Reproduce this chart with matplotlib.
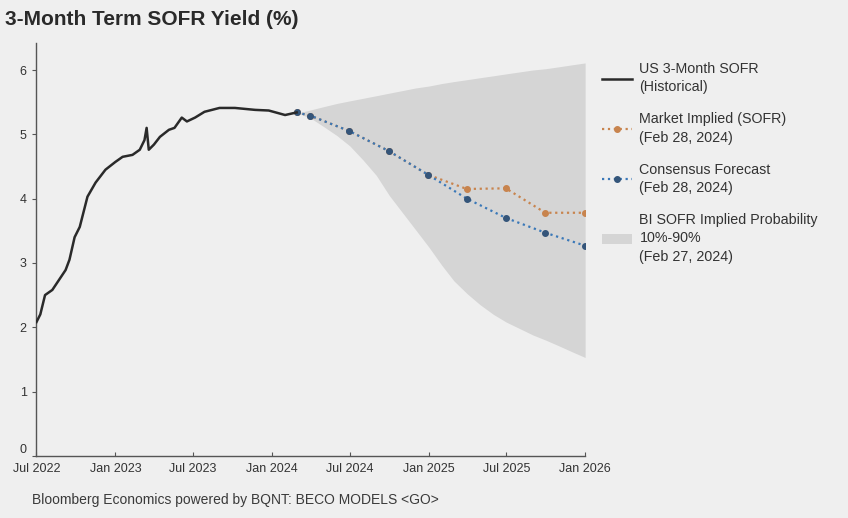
import numpy as np
import pandas as pd
import matplotlib
matplotlib.use('Agg')
import matplotlib.pyplot as plt
import matplotlib.dates as mdates
from matplotlib.lines import Line2D
from matplotlib.patches import Patch

plt.rcParams['font.family'] = ['Liberation Sans', 'DejaVu Sans']

# historical 3m SOFR
hist_dates = ['2022-07-01', '2022-07-10', '2022-07-21', '2022-08-07', '2022-08-19', '2022-09-07',
              '2022-09-16', '2022-09-28', '2022-10-10', '2022-10-28', '2022-11-16', '2022-12-09',
              '2023-01-01', '2023-01-18', '2023-02-10', '2023-02-27', '2023-03-10', '2023-03-15',
              '2023-03-20', '2023-04-01', '2023-04-15', '2023-05-06', '2023-05-19', '2023-06-05',
              '2023-06-17', '2023-07-06', '2023-07-28', '2023-09-01', '2023-10-07', '2023-11-23',
              '2023-12-25', '2024-02-01', '2024-02-28']
hist_vals = [2.08, 2.2, 2.5, 2.58, 2.7, 2.89,
             3.05, 3.4, 3.56, 4.03, 4.25, 4.45,
             4.57, 4.65, 4.68, 4.76, 4.91, 5.1,
             4.76, 4.84, 4.96, 5.07, 5.1, 5.26,
             5.2, 5.26, 5.35, 5.41, 5.41, 5.38,
             5.37, 5.3, 5.34]

# forecasts (quarterly)
fc_dates = ['2024-02-28', '2024-03-31', '2024-06-30', '2024-09-30', '2024-12-31',
            '2025-03-31', '2025-06-30', '2025-09-30', '2025-12-31']
market_implied = [5.34, 5.29, 5.05, 4.74, 4.37, 4.15, 4.16, 3.78, 3.78]
consensus = [5.34, 5.29, 5.05, 4.74, 4.37, 4.0, 3.70, 3.47, 3.27]

# BI implied probability band 10%-90% (monthly)
band_dates = pd.date_range('2024-03-01', '2026-01-01', freq='MS')
band_low = [5.33, 5.25, 5.12, 4.98, 4.82, 4.6, 4.36, 4.05, 3.78, 3.52, 3.25, 2.96,
            2.72, 2.52, 2.35, 2.2, 2.08, 1.98, 1.88, 1.8, 1.71, 1.62, 1.53]
band_high = [5.33, 5.38, 5.43, 5.48, 5.52, 5.56, 5.6, 5.64, 5.68, 5.72, 5.75, 5.79,
             5.82, 5.85, 5.88, 5.91, 5.94, 5.97, 6.0, 6.02, 6.05, 6.08, 6.11]

bg = '#efefef'
fig = plt.figure(figsize=(8.48, 5.18), dpi=100, facecolor=bg)
ax = fig.add_axes([0.043, 0.12, 0.647, 0.797], facecolor=bg)

ax.fill_between(band_dates, band_low, band_high, color='#d5d5d5', lw=0, zorder=1)
ax.plot(pd.to_datetime(hist_dates), hist_vals, color='#2a2a2a', lw=1.8, zorder=4)
ax.plot(pd.to_datetime(fc_dates), market_implied, color='#c8844e', ls=':', lw=1.6,
        marker='o', ms=4, zorder=2)
ax.plot(pd.to_datetime(fc_dates), consensus, color='#3a78b8', ls=':', lw=1.6,
        marker='o', ms=4, mfc='#34557a', mec='#34557a', zorder=3)

ax.set_xlim(pd.Timestamp('2022-07-01'), pd.Timestamp('2026-01-01'))
ax.set_ylim(0, 6.42)
ax.set_yticks(range(0, 7))
ax.xaxis.set_major_locator(mdates.MonthLocator(bymonth=[1, 7]))
ax.xaxis.set_major_formatter(mdates.DateFormatter('%b %Y'))

for s in ['top', 'right']:
    ax.spines[s].set_visible(False)
for s in ['left', 'bottom']:
    ax.spines[s].set_color('#555555')
    ax.spines[s].set_linewidth(1.0)
ax.tick_params(axis='both', colors='#555555', labelcolor='#333333', labelsize=9,
               length=3, width=0.8)
ax.tick_params(axis='x', direction='in', pad=5)
ax.tick_params(axis='y', pad=4)
ax.get_yticklabels()[0].set_va('bottom')

fig.text(0.006, 0.963, '3-Month Term SOFR Yield (%)', fontsize=15, fontweight='bold',
         color='#2a2a2a', va='center', ha='left')
fig.text(0.038, 0.035, 'Bloomberg Economics powered by BQNT: BECO MODELS <GO>',
         fontsize=10, color='#3a3a3a', va='center', ha='left')

handles = [
    Line2D([], [], color='#2a2a2a', lw=1.8),
    Line2D([], [], color='#c8844e', ls=':', lw=1.6, marker='o', ms=4),
    Line2D([], [], color='#3a78b8', ls=':', lw=1.6, marker='o', ms=4,
           mfc='#34557a', mec='#34557a'),
    Patch(facecolor='#d5d5d5', edgecolor='none'),
]
labels = ['US 3-Month SOFR\n(Historical)',
          'Market Implied (SOFR)\n(Feb 28, 2024)',
          'Consensus Forecast\n(Feb 28, 2024)',
          'BI SOFR Implied Probability\n10%-90%\n(Feb 27, 2024)']
leg = fig.legend(handles, labels, loc='upper left', bbox_to_anchor=(0.695, 0.905),
                 frameon=False, fontsize=10.3, labelcolor='#333333', handlelength=2.1,
                 handletextpad=0.5, labelspacing=1.25)
for t in leg.get_texts():
    t.set_linespacing(1.4)

fig.savefig('out.png', dpi=100, facecolor=bg)
